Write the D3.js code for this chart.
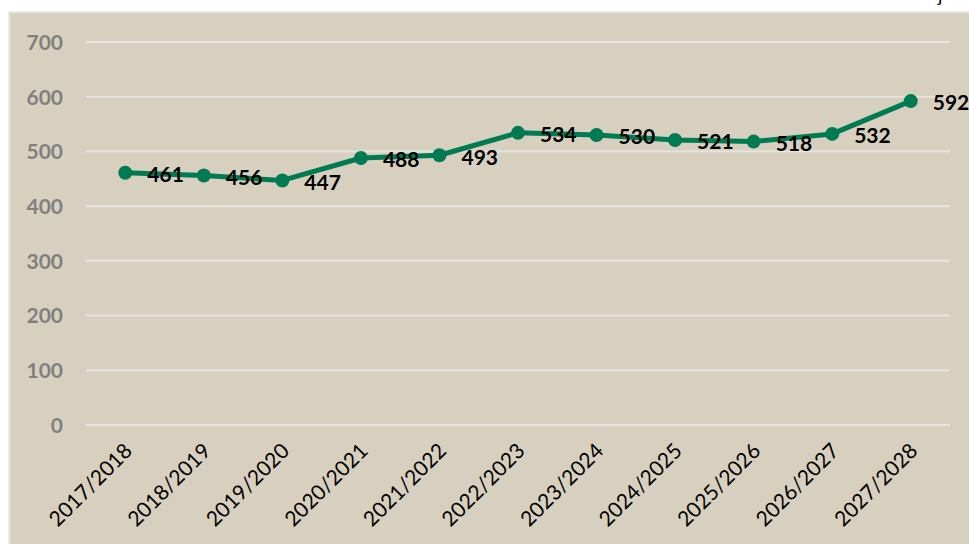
<!DOCTYPE html>
<html>
<head>
<meta charset="utf-8">
<script src="https://cdn.jsdelivr.net/npm/d3@7"></script>
<style>
  html, body { margin: 0; padding: 0; background: #ffffff; }
  svg { display: block; }
</style>
</head>
<body>
<div id="chart"></div>
<script>
// Data
const categories = ["2017/2018", "2018/2019", "2019/2020", "2020/2021", "2021/2022", "2022/2023",
  "2023/2024", "2024/2025", "2025/2026", "2026/2027", "2027/2028"];
const values = [461, 456, 447, 488, 493, 534, 530, 521, 518, 532, 592];
const yTicks = [0, 100, 200, 300, 400, 500, 600, 700];

const width = 969;
const height = 544;
const margin = { top: 42, right: 19, bottom: 119, left: 86 };

const svg = d3.select("#chart").append("svg").attr("width", width).attr("height", height);

// Beige panel
svg.append("rect")
  .attr("x", 9.5).attr("y", 12.5)
  .attr("width", width).attr("height", height)
  .attr("fill", "#d8d0bf")
  .attr("stroke", "#e2e0dc")
  .attr("stroke-width", 2);

// Cut-off glyph above the panel
svg.append("text")
  .attr("x", 938).attr("y", 2)
  .attr("font-family", "Lato, 'Open Sans', sans-serif")
  .attr("font-size", 18)
  .attr("fill", "#000")
  .text("j");

const x = d3.scaleBand()
  .domain(categories)
  .range([margin.left, width - margin.right]);

const y = d3.scaleLinear()
  .domain([0, 700])
  .range([height - margin.bottom, margin.top]);

// Gridlines
svg.append("g")
  .selectAll("line")
  .data(yTicks)
  .join("line")
  .attr("x1", margin.left)
  .attr("x2", width - margin.right)
  .attr("y1", (d) => y(d))
  .attr("y2", (d) => y(d))
  .attr("stroke", "#e6e4e0")
  .attr("stroke-width", 2);

// Y axis labels
svg.append("g")
  .attr("transform", `translate(${margin.left - 23},0)`)
  .call(d3.axisLeft(y).tickValues(yTicks).tickSize(0).tickPadding(0))
  .call((g) => g.select(".domain").remove())
  .call((g) => g.selectAll("text")
    .attr("font-family", "Lato, 'Open Sans', sans-serif")
    .attr("font-size", 21)
    .attr("font-weight", "bold")
    .attr("fill", "#808080")
    .attr("dy", "0.35em"));

// X axis labels (rotated)
svg.append("g")
  .selectAll("text")
  .data(categories)
  .join("text")
  .attr("transform", (d) => `translate(${x(d) + x.bandwidth() / 2 + 3},${y(0) + 22}) rotate(-45)`)
  .attr("text-anchor", "end")
  .attr("font-family", "Lato, 'Open Sans', sans-serif")
  .attr("font-size", 21)
  .attr("fill", "#000")
  .attr("dy", "0.35em")
  .text((d) => d);

const cx = (i) => x(categories[i]) + x.bandwidth() / 2;

// Line
const line = d3.line()
  .x((d, i) => cx(i))
  .y((d) => y(d));

svg.append("path")
  .datum(values)
  .attr("d", line)
  .attr("fill", "none")
  .attr("stroke", "#007a53")
  .attr("stroke-width", 5)
  .attr("stroke-linejoin", "round");

// Markers
svg.append("g")
  .selectAll("circle")
  .data(values)
  .join("circle")
  .attr("cx", (d, i) => cx(i))
  .attr("cy", (d) => y(d))
  .attr("r", 7)
  .attr("fill", "#007a53");

// Data labels
svg.append("g")
  .selectAll("text")
  .data(values)
  .join("text")
  .attr("x", (d, i) => cx(i) + 22)
  .attr("y", (d) => y(d) + 2)
  .attr("dy", "0.35em")
  .attr("font-family", "Lato, 'Open Sans', sans-serif")
  .attr("font-size", 21)
  .attr("font-weight", "bold")
  .attr("fill", "#000")
  .text((d) => d);
</script>
</body>
</html>
